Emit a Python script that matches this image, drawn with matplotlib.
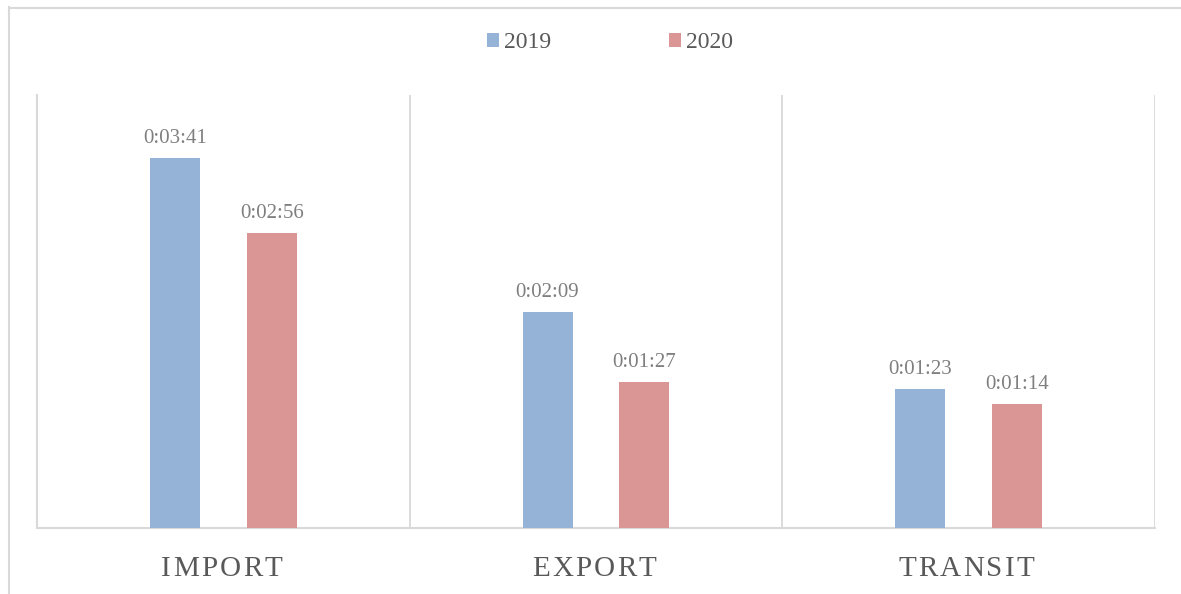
"""Average clearance time by procedure, 2019 vs 2020."""

import matplotlib

matplotlib.use("Agg")
import matplotlib.pyplot as plt  # noqa: E402
from matplotlib.lines import Line2D  # noqa: E402
from matplotlib.patches import Patch  # noqa: E402

categories = ["IMPORT", "EXPORT", "TRANSIT"]
series_names = ["2019", "2020"]
# durations in seconds
values_2019 = [221, 129, 83]
values_2020 = [176, 87, 74]

COLORS = ["#95B3D7", "#D99694"]
GRID = "#D9D9D9"
W, H = 1181, 594


def fmt_hms(seconds: int) -> str:
    h, rem = divmod(int(seconds), 3600)
    m, s = divmod(rem, 60)
    return f"{h}:{m:02d}:{s:02d}"


def spaced_label(fig, renderer, text, x_px, baseline_px, size, tracking_px, color):
    """Draw text centred at x_px with extra letter spacing (pixel coords, top origin)."""
    def width(s):
        if not s:
            return 0.0
        t = fig.text(0, 0, s, fontsize=size)
        w = t.get_window_extent(renderer).width
        t.remove()
        return w

    total = width(text) + tracking_px * (len(text) - 1)
    left = x_px - total / 2
    for i, ch in enumerate(text):
        x = left + width(text[:i]) + tracking_px * i
        fig.text(x / W, 1 - baseline_px / H, ch, fontsize=size, color=color,
                 ha="left", va="baseline")


plt.rcParams["font.family"] = ["Liberation Serif", "DejaVu Serif"]

fig = plt.figure(figsize=(11.81, 5.94), dpi=100)
ax = fig.add_axes([37 / W, 1 - 528 / H, (1155 - 37) / W, (528 - 95) / H])

offset = 0.13
width = 0.134
xs = list(range(len(categories)))
for k, vals in enumerate([values_2019, values_2020]):
    pos = [x + (2 * k - 1) * offset for x in xs]
    ax.bar(pos, vals, width=width, color=COLORS[k], zorder=3)
    for p, v in zip(pos, vals):
        ax.annotate(
            fmt_hms(v),
            (p, v),
            xytext=(0, 11),
            textcoords="offset points",
            ha="center",
            va="baseline",
            fontsize=15,
            color="#7F7F7F",
        )

ax.set_xlim(-0.5, len(categories) - 0.5)
ax.set_ylim(0, 258.7)
ax.set_yticks([])
ax.set_xticks(xs)
ax.set_xticklabels([])
ax.tick_params(axis="x", length=0)
for b in [0.5, 1.5, 2.5]:
    ax.axvline(b, color=GRID, linewidth=1.3, zorder=1)

for side in ("top", "right"):
    ax.spines[side].set_visible(False)
for side in ("left", "bottom"):
    ax.spines[side].set_color(GRID)
    ax.spines[side].set_linewidth(1.5)

# category labels with letter spacing, centred under each group
renderer = fig.canvas.get_renderer()
for x, name in zip(xs, categories):
    cx = ax.transData.transform((x, 0))[0]
    spaced_label(fig, renderer, name, cx - 2.5, 576, 21, 2.2, "#595959")

handles = [Patch(facecolor=c, edgecolor="none") for c in COLORS]
fig.legend(
    handles,
    series_names,
    loc="center",
    bbox_to_anchor=(610 / W, 1 - 43 / H),
    ncol=2,
    frameon=False,
    fontsize=17,
    labelcolor="#595959",
    handlelength=0.5,
    handleheight=0.5,
    handletextpad=0.2,
    columnspacing=5.0,
)

# outer chart border (left and top edges visible)
fig.add_artist(Line2D([8.5 / W, 8.5 / W], [0, 1 - 7 / H], color=GRID, linewidth=1.5))
fig.add_artist(Line2D([8.5 / W, 1], [1 - 7.5 / H, 1 - 7.5 / H], color=GRID, linewidth=1.5))

fig.savefig("out.png", dpi=100)
